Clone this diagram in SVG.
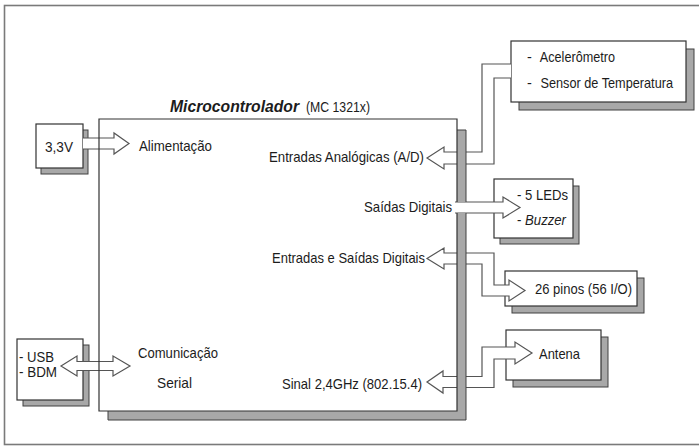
<svg xmlns="http://www.w3.org/2000/svg" width="699" height="446" viewBox="0 0 699 446">
<style>
  text { font-family: "Liberation Sans", Arial, sans-serif; font-size: 14.5px; fill: #1c1c1c; }
  .box { fill: #ffffff; stroke: #333333; stroke-width: 1.2; }
  .shadow { fill: #a8a8a8; stroke: #404040; stroke-width: 1; }
  .arrow { fill: #ffffff; stroke: #555555; stroke-width: 1.2; stroke-linejoin: miter; }
  .title { font-weight: bold; font-style: italic; font-size: 17px; }
  .it { font-style: italic; }
</style>
<rect x="0" y="0" width="699" height="446" fill="#ffffff"/>
<rect id="frame" x="4.5" y="5.5" width="710" height="439" fill="none" stroke="#7a7a7a" stroke-width="1.6"/>

<g id="node-power">
  <rect class="shadow" x="41" y="130" width="47" height="44"/>
  <rect class="box" x="36" y="124" width="47" height="44"/>
  <text x="45" y="152" textLength="28" lengthAdjust="spacingAndGlyphs">3,3V</text>
</g>

<g id="node-sensors">
  <rect class="shadow" x="519" y="49" width="175" height="61"/>
  <rect class="box" x="511" y="41" width="175" height="61"/>
  <text y="62"><tspan x="527">-</tspan><tspan x="537" textLength="78" lengthAdjust="spacingAndGlyphs"> Acelerômetro</tspan></text>
  <text y="88"><tspan x="527">-</tspan><tspan x="537" textLength="136" lengthAdjust="spacingAndGlyphs"> Sensor de Temperatura</tspan></text>
</g>

<g id="node-leds">
  <rect class="shadow" x="500" y="186" width="79" height="58"/>
  <rect class="box" x="494" y="179" width="79" height="59"/>
  <text x="517" y="200" textLength="51" lengthAdjust="spacingAndGlyphs">- 5 LEDs</text>
  <text x="517" y="225" textLength="49" lengthAdjust="spacingAndGlyphs">- <tspan class="it">Buzzer</tspan></text>
</g>

<g id="node-pins">
  <rect class="shadow" x="512" y="278" width="132" height="35"/>
  <rect class="box" x="505" y="271" width="132" height="35"/>
  <text x="535" y="294" textLength="97" lengthAdjust="spacingAndGlyphs">26 pinos (56 I/O)</text>
</g>

<g id="node-antena">
  <rect class="shadow" x="513" y="337" width="95" height="50"/>
  <rect class="box" x="506" y="330" width="95" height="50"/>
  <text x="539" y="359" textLength="41" lengthAdjust="spacingAndGlyphs">Antena</text>
</g>

<g id="node-serial">
  <rect class="shadow" x="23" y="345" width="66" height="61"/>
  <rect class="box" x="17" y="339" width="66" height="61"/>
  <text x="19" y="362" textLength="35" lengthAdjust="spacingAndGlyphs">- USB</text>
  <text x="19" y="377" textLength="38" lengthAdjust="spacingAndGlyphs">- BDM</text>
</g>

<g id="connectors">
  <path class="arrow" d="M83,138 H114 V133 L129,143.5 L114,154 V149 H83"/>
  <path class="arrow" d="M511,64 H482 V152 H444 V147 L427,158 L444,169 V164 H494 V78 H511"/>
  <path class="arrow" d="M455,202 H503 V197 L520,207.5 L503,218 V213 H455"/>
  <path class="arrow" d="M427,258.5 L444,248 V253 H494 V285 H509 V280 L525,290.5 L509,301 V296 H482 V264 H444 V269 Z"/>
  <path class="arrow" d="M427,382 L443,371 V376.5 H482 V347 H515 V342 L532,353 L515,364 V359 H494 V387.5 H443 V393 Z"/>
  <path class="arrow" d="M61,366 L77,356 V361.5 H113 V356 L130,366 L113,376 V370.5 H77 V376 Z"/>
</g>

<g id="node-mcu">
  <path d="M457,130 H466 V202 H457 Z M457,213 H466 V420 H108 V411 H457 Z" fill="#a8a8a8"/>
  <path d="M457,130 H466 V202 M466,213 V420 H108 V411" fill="none" stroke="#404040" stroke-width="1"/>
  <path d="M457,202 V119 H99 V411 H457 V213" fill="none" stroke="#333333" stroke-width="1.2"/>
  <text x="170" y="112" class="title" textLength="129" lengthAdjust="spacingAndGlyphs">Microcontrolador</text>
  <text x="306" y="112" font-size="14" textLength="64" lengthAdjust="spacingAndGlyphs">(MC 1321x)</text>
  <text x="139" y="151" textLength="73" lengthAdjust="spacingAndGlyphs">Alimentação</text>
  <text x="269" y="162" textLength="155" lengthAdjust="spacingAndGlyphs">Entradas Analógicas (A/D)</text>
  <text x="364" y="212" textLength="88" lengthAdjust="spacingAndGlyphs">Saídas Digitais</text>
  <text x="272" y="263" textLength="153" lengthAdjust="spacingAndGlyphs">Entradas e Saídas Digitais</text>
  <text x="282" y="389" textLength="140" lengthAdjust="spacingAndGlyphs">Sinal 2,4GHz (802.15.4)</text>
  <text x="138" y="358" textLength="80" lengthAdjust="spacingAndGlyphs">Comunicação</text>
  <text x="157" y="388" textLength="35" lengthAdjust="spacingAndGlyphs">Serial</text>
</g>
</svg>
